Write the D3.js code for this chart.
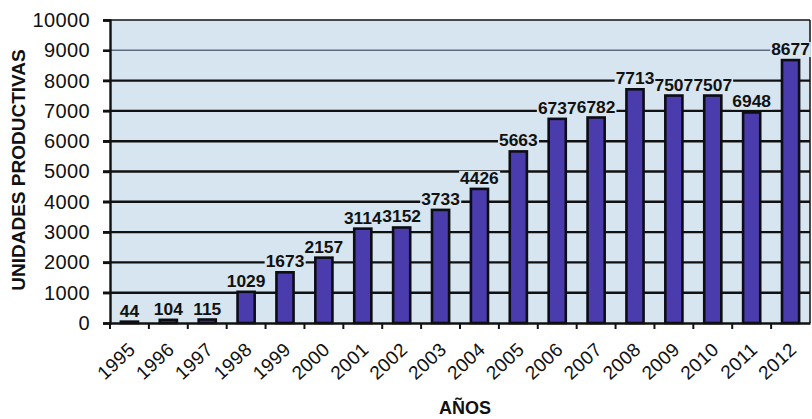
<!DOCTYPE html>
<html>
<head>
<meta charset="utf-8">
<script src="https://cdn.jsdelivr.net/npm/d3@7"></script>
<style>
  html, body { margin: 0; padding: 0; background: #ffffff; }
  svg { display: block; font-family: "Liberation Sans", Arial, sans-serif; }
</style>
</head>
<body>
<svg id="chart" width="812" height="419"></svg>
<script>
const years = ["1995","1996","1997","1998","1999","2000","2001","2002","2003","2004","2005","2006","2007","2008","2009","2010","2011","2012"];
const units = [44,104,115,1029,1673,2157,3114,3152,3733,4426,5663,6737,6782,7713,7507,7507,6948,8677];
const yTicks = [0,1000,2000,3000,4000,5000,6000,7000,8000,9000,10000];
const yTitle = "UNIDADES PRODUCTIVAS";
const xTitle = "AÑOS";

const svg = d3.select("#chart");
const m = {left: 110, right: 2, top: 20, bottom: 96};
const W = 812, H = 419;
const x = d3.scaleBand().domain(years).range([m.left, W - m.right]).paddingInner(0.56).paddingOuter(0.28);
const xb = d3.scaleBand().domain(years).range([m.left, W - m.right]);
const y = d3.scaleLinear().domain([0, 10000]).range([323, 20]);

// plot background
svg.append("rect")
  .attr("x", m.left).attr("y", y(10000))
  .attr("width", W - m.right - m.left).attr("height", y(0) - y(10000))
  .attr("fill", "#d6e5ef");

// gridlines
svg.append("g").selectAll("line").data(yTicks.filter(d => d > 0)).join("line")
  .attr("x1", m.left - 7).attr("x2", W - m.right)
  .attr("y1", d => y(d)).attr("y2", d => y(d))
  .attr("stroke", d => d === 9000 ? "#5d6b82" : "#111")
  .attr("stroke-width", d => d >= 9000 ? 1.6 : 2.4);

// right border
svg.append("line")
  .attr("x1", W - m.right).attr("x2", W - m.right)
  .attr("y1", y(10000)).attr("y2", y(0))
  .attr("stroke", "#111").attr("stroke-width", 1.5);

// label backgrounds + bars
const lab = svg.append("g");
svg.append("g").selectAll("rect").data(years).join("rect")
  .attr("x", d => x(d)).attr("width", x.bandwidth())
  .attr("y", (d, i) => y(units[i]))
  .attr("height", (d, i) => y(0) - y(units[i]))
  .attr("fill", "#4b3cae")
  .attr("stroke", "#0d0d14").attr("stroke-width", 2.6);

// y axis
const yAxis = d3.axisLeft(y).tickValues(yTicks).tickSize(7).tickPadding(13).tickFormat(d3.format("d"));
const gy = svg.append("g").attr("transform", `translate(${m.left},0)`).call(yAxis);
gy.select(".domain").attr("stroke", "#111").attr("stroke-width", 2.4);
gy.selectAll(".tick line").attr("stroke", "#111").attr("stroke-width", 2.4);
gy.selectAll("text").attr("font-size", 20).attr("letter-spacing", 0.4).attr("fill", "#111");

// x axis
const xAxis = d3.axisBottom(xb).tickSize(0).tickFormat(d => d);
const gx = svg.append("g").attr("transform", `translate(0,${y(0)})`).call(xAxis);
gx.select(".domain").attr("stroke", "#111").attr("stroke-width", 2.4);
gx.selectAll("text")
  .attr("font-size", 19).attr("fill", "#111")
  .attr("letter-spacing", 0.3)
  .attr("text-anchor", "end")
  .attr("dy", "0")
  .attr("transform", "translate(5,26) rotate(-43)");
// tick marks at band boundaries
svg.append("g").selectAll("line").data(years).join("line")
  .attr("x1", d => xb(d)).attr("x2", d => xb(d))
  .attr("y1", y(0)).attr("y2", y(0) + 6)
  .attr("stroke", "#111").attr("stroke-width", 2);

// value labels
const labels = svg.append("g").selectAll("text").data(years).join("text")
  .attr("x", d => x(d) + x.bandwidth() / 2)
  .attr("y", (d, i) => y(units[i]) - 5)
  .attr("text-anchor", "middle")
  .attr("font-size", 17.4).attr("font-weight", "bold").attr("fill", "#111")
  .text((d, i) => units[i]);
labels.each(function() {
  const b = this.getBBox();
  lab.append("rect").attr("x", b.x - 1).attr("y", b.y + 3).attr("width", b.width + 2).attr("height", b.height - 5)
    .attr("fill", "#d6e5ef");
});

// titles
svg.append("text")
  .attr("transform", "translate(25,170) rotate(-90)")
  .attr("text-anchor", "middle")
  .attr("font-size", 19).attr("font-weight", "bold").attr("fill", "#111")
  .text(yTitle);
svg.append("text")
  .attr("x", 465).attr("y", 414)
  .attr("text-anchor", "middle")
  .attr("font-size", 18).attr("font-weight", "bold").attr("fill", "#111")
  .text(xTitle);
</script>
</body>
</html>
